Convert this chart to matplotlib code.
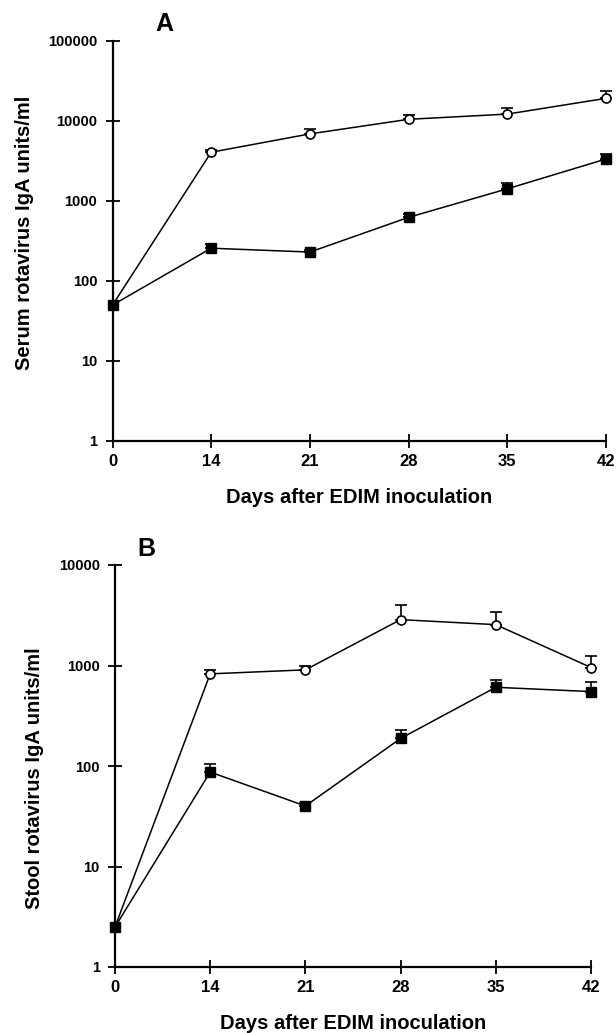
import matplotlib
matplotlib.use("Agg")
import matplotlib.pyplot as plt
import numpy as np

plt.rcParams['font.family'] = ['Liberation Sans', 'DejaVu Sans']

days = ['0', '14', '21', '28', '35', '42']

# panel A - serum IgA
serum_open = [50, 4070, 6900, 10500, 12200, 19200]
serum_open_top = [50, 4400, 8000, 12000, 14700, 24000]
serum_filled = [50, 257, 230, 625, 1420, 3350]
serum_filled_top = [50, 292, 247, 690, 1680, 3820]

# panel B - stool IgA
stool_open = [2.5, 826, 905, 2860, 2550, 955]
stool_open_top = [2.5, 912, 1000, 4040, 3415, 1240]
stool_filled = [2.5, 87, 40, 188, 607, 550]
stool_filled_top = [2.5, 104, 43, 229, 719, 681]

yticks_a = [1, 10, 100, 1000, 10000, 100000]
yticks_b = [1, 10, 100, 1000, 10000]

fig = plt.figure(figsize=(6.16, 10.33), dpi=100)
W, H = 616, 1033


def make_axes(l, r, t, b):
    return fig.add_axes([l / W, 1 - b / H, (r - l) / W, (b - t) / H])


def draw(ax, o, ot, f, ft, yticks, ylabel, letter, ylab_xy, let_xy):
    x = np.arange(len(days))
    o, ot, f, ft = map(np.array, (o, ot, f, ft))
    ax.errorbar(x[1:], o[1:], yerr=[np.zeros(len(x) - 1), (ot - o)[1:]],
                fmt='none', ecolor='black', elinewidth=1.2, capsize=4,
                capthick=1.2, clip_on=False)
    ax.errorbar(x[1:], f[1:], yerr=[np.zeros(len(x) - 1), (ft - f)[1:]],
                fmt='none', ecolor='black', elinewidth=1.2, capsize=4,
                capthick=1.2, clip_on=False)
    ax.plot(x, o, color='black', lw=1.1, marker='o', ms=6.5,
            mfc='white', mec='black', mew=1.2, clip_on=False, zorder=5)
    ax.plot(x, f, color='black', lw=1.1, marker='s', ms=6.5,
            mfc='black', mec='black', clip_on=False, zorder=6)
    ax.set_yscale('log')
    ax.set_xlim(0, len(days) - 1)
    ax.set_ylim(yticks[0], yticks[-1])
    ax.set_yticks(yticks)
    ax.set_yticklabels([str(v) for v in yticks])
    ax.minorticks_off()
    ax.set_xticks(x)
    ax.set_xticklabels(days)
    for s in ['top', 'right']:
        ax.spines[s].set_visible(False)
    for s in ['left', 'bottom']:
        ax.spines[s].set_linewidth(1.6)
    ax.tick_params(axis='x', direction='inout', length=10, width=1.3,
                   labelsize=12, pad=4)
    ax.tick_params(axis='y', direction='inout', length=10, width=1.3,
                   labelsize=10.5, pad=6)
    for lab in ax.get_xticklabels() + ax.get_yticklabels():
        lab.set_fontweight('bold')
    ax.set_ylabel(ylabel, fontsize=14.5, fontweight='bold')
    ax.yaxis.set_label_coords(*ylab_xy)
    ax.set_xlabel('Days after EDIM inoculation', fontsize=14.5,
                  fontweight='bold', labelpad=14)
    ax.text(let_xy[0], let_xy[1], letter, transform=ax.transAxes,
            fontsize=18, fontweight='bold', ha='left', va='baseline')


ax1 = make_axes(112.5, 606, 41, 441)
draw(ax1, serum_open, serum_open_top, serum_filled, serum_filled_top,
     yticks_a, 'Serum rotavirus IgA units/ml', 'A', (-0.16, 0.52),
     (0.086, 1.026))

ax2 = make_axes(115, 591, 565, 967)
draw(ax2, stool_open, stool_open_top, stool_filled, stool_filled_top,
     yticks_b, 'Stool rotavirus IgA units/ml', 'B', (-0.15, 0.47),
     (0.046, 1.022))

fig.savefig('out.png', dpi=100)
